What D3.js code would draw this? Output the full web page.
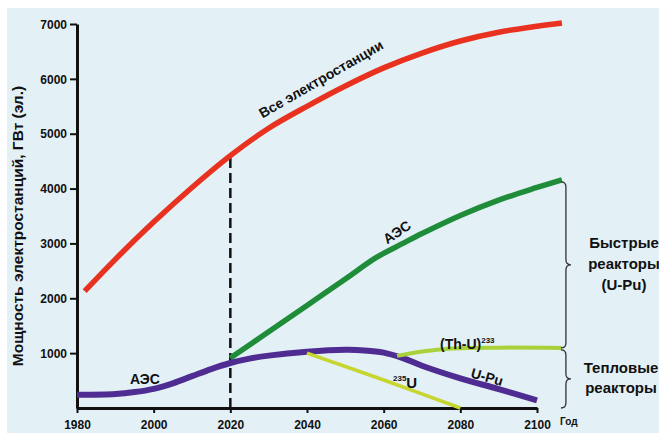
<!DOCTYPE html>
<html><head><meta charset="utf-8">
<script src="https://cdn.jsdelivr.net/npm/d3@7"></script>
<style>
html,body{margin:0;padding:0;background:#fff;}
text{font-family:"Liberation Sans",Arial,sans-serif;font-weight:bold;fill:#111;}
</style></head>
<body><svg id="c" width="659" height="433"></svg>
<script>
// Data
const xTicks = [1980, 2000, 2020, 2040, 2060, 2080, 2100];
const yTicks = [1000, 2000, 3000, 4000, 5000, 6000, 7000];
const allYears = [1982, 1990, 2000, 2010, 2020, 2030, 2040, 2050, 2060, 2070, 2080, 2090, 2100, 2106.5];
const allValues = [2130, 2710, 3390, 4020, 4600, 5100, 5500, 5870, 6200, 6470, 6690, 6850, 6960, 7020];
const fastYears = [2020, 2030, 2040, 2050, 2058, 2065, 2070, 2080, 2090, 2100, 2106.5];
const fastValues = [910, 1390, 1870, 2350, 2740, 3000, 3180, 3510, 3790, 4020, 4160];
const thermalYears = [1980, 1990, 1995, 2000, 2005, 2010, 2015, 2020, 2025, 2030, 2040, 2050, 2055, 2060, 2065, 2070, 2080, 2090, 2100];
const thermalValues = [240, 255, 290, 350, 450, 580, 710, 820, 900, 955, 1025, 1060, 1050, 1010, 910, 770, 540, 345, 140];
const u235Years = [2040, 2060, 2080];
const u235Values = [1000, 510, 0];
const thuYears = [2063.5, 2070, 2078, 2090, 2106.5];
const thuValues = [950, 1030, 1085, 1100, 1095];
const splitYear = 2020;

const svg = d3.select("#c");
svg.append("rect").attr("x", 7).attr("y", 8).attr("width", 652).attr("height", 425).attr("fill", "#e3f0f6");

const x = d3.scaleLinear().domain([1980, 2100]).range([77, 537]);
const y = d3.scaleLinear().domain([0, 7000]).range([408, 24]);

// axes
const gy = svg.append("g").attr("transform", `translate(${x(1980)},0)`)
  .call(d3.axisLeft(y).tickValues(yTicks).tickSize(7).tickSizeOuter(0).tickPadding(3).tickFormat(d3.format("d")));
const gx = svg.append("g").attr("transform", `translate(0,${y(0)})`)
  .call(d3.axisBottom(x).tickValues(xTicks).tickSize(5).tickSizeOuter(0).tickPadding(7).tickFormat(d3.format("d")));
[gy, gx].forEach(g => {
  g.select(".domain").attr("stroke", "#111").attr("stroke-width", 3);
  g.selectAll(".tick line").attr("stroke", "#111").attr("stroke-width", 2);
  g.selectAll(".tick text").style("font-size", "12px").attr("fill", "#111");
});
gy.selectAll(".tick text").attr("dy", "0.35em");

// axis title
svg.append("text").attr("transform", "translate(23,226) rotate(-90)")
  .attr("text-anchor", "middle").style("font-size", "15.5px").text("Мощность электростанций, ГВт (эл.)");
svg.append("text").attr("x", 560).attr("y", 425).style("font-size", "10px").text("Год");

// dashed line at 2020
svg.append("line").attr("x1", x(splitYear)).attr("x2", x(splitYear))
  .attr("y1", y(0)).attr("y2", y(allValues[allYears.indexOf(splitYear)]))
  .attr("stroke", "#111").attr("stroke-width", 2.5).attr("stroke-dasharray", "10,5");

function series(years, vals, color, w) {
  const data = years.map((d, i) => [d, vals[i]]);
  svg.append("path").datum(data)
    .attr("d", d3.line().x(d => x(d[0])).y(d => y(d[1])).curve(d3.curveCatmullRom.alpha(0.5)))
    .attr("fill", "none").attr("stroke", color).attr("stroke-width", w);
}
series(allYears, allValues, "#e8321f", 5.5);
series(fastYears, fastValues, "#1f8c3a", 5.5);
series(thermalYears, thermalValues, "#4f2c92", 6);
series(u235Years, u235Values, "#c6d62e", 3.5);
series(thuYears, thuValues, "#a9d23a", 4);

// braces
function brace(x0, y0, y1, r) {
  const ym = (y0 + y1) / 2;
  return `M${x0},${y0} Q${x0 + r},${y0} ${x0 + r},${y0 + r} L${x0 + r},${ym - r} Q${x0 + r},${ym} ${x0 + 2 * r},${ym} ` +
    `Q${x0 + r},${ym} ${x0 + r},${ym + r} L${x0 + r},${y1 - r} Q${x0 + r},${y1} ${x0},${y1}`;
}
const bx = x(2106.5) - 1;
svg.append("path").attr("d", brace(bx, y(fastValues[fastValues.length - 1]) + 2, y(thuValues[thuValues.length - 1]), 5))
  .attr("fill", "none").attr("stroke", "#333").attr("stroke-width", 1.3);
svg.append("path").attr("d", brace(bx, y(thuValues[thuValues.length - 1]) + 2, y(0), 5))
  .attr("fill", "none").attr("stroke", "#333").attr("stroke-width", 1.3);

// labels
function label(txt, cx, cy, rot, size) {
  svg.append("text").attr("transform", `translate(${cx},${cy}) rotate(${rot})`)
    .attr("text-anchor", "middle").attr("dy", "0.35em").style("font-size", size + "px").text(txt);
}
label("Все электростанции", 321, 79, -30, 14);
label("АЭС", 145, 379, 0, 14);
label("АЭС", 397, 232, -34, 14);
label("U-Pu", 487, 377, 16, 14);

const th = svg.append("text").attr("x", 440).attr("y", 349).style("font-size", "14px");
th.append("tspan").text("(Th-U)");
th.append("tspan").attr("dy", -6).style("font-size", "8px").text("233");

const u = svg.append("text").attr("x", 393).attr("y", 388).style("font-size", "15px");
u.append("tspan").attr("dy", -7).style("font-size", "8px").text("235");
u.append("tspan").attr("dy", 7).text("U");

const fastLbl = ["Быстрые", "реакторы", "(U-Pu)"];
fastLbl.forEach((t, i) => svg.append("text").attr("x", 624).attr("y", 248 + i * 21)
  .attr("text-anchor", "middle").style("font-size", "15px").text(t));
const thermLbl = ["Тепловые", "реакторы"];
thermLbl.forEach((t, i) => svg.append("text").attr("x", 621).attr("y", 373 + i * 20)
  .attr("text-anchor", "middle").style("font-size", "15px").text(t));
</script></body></html>
